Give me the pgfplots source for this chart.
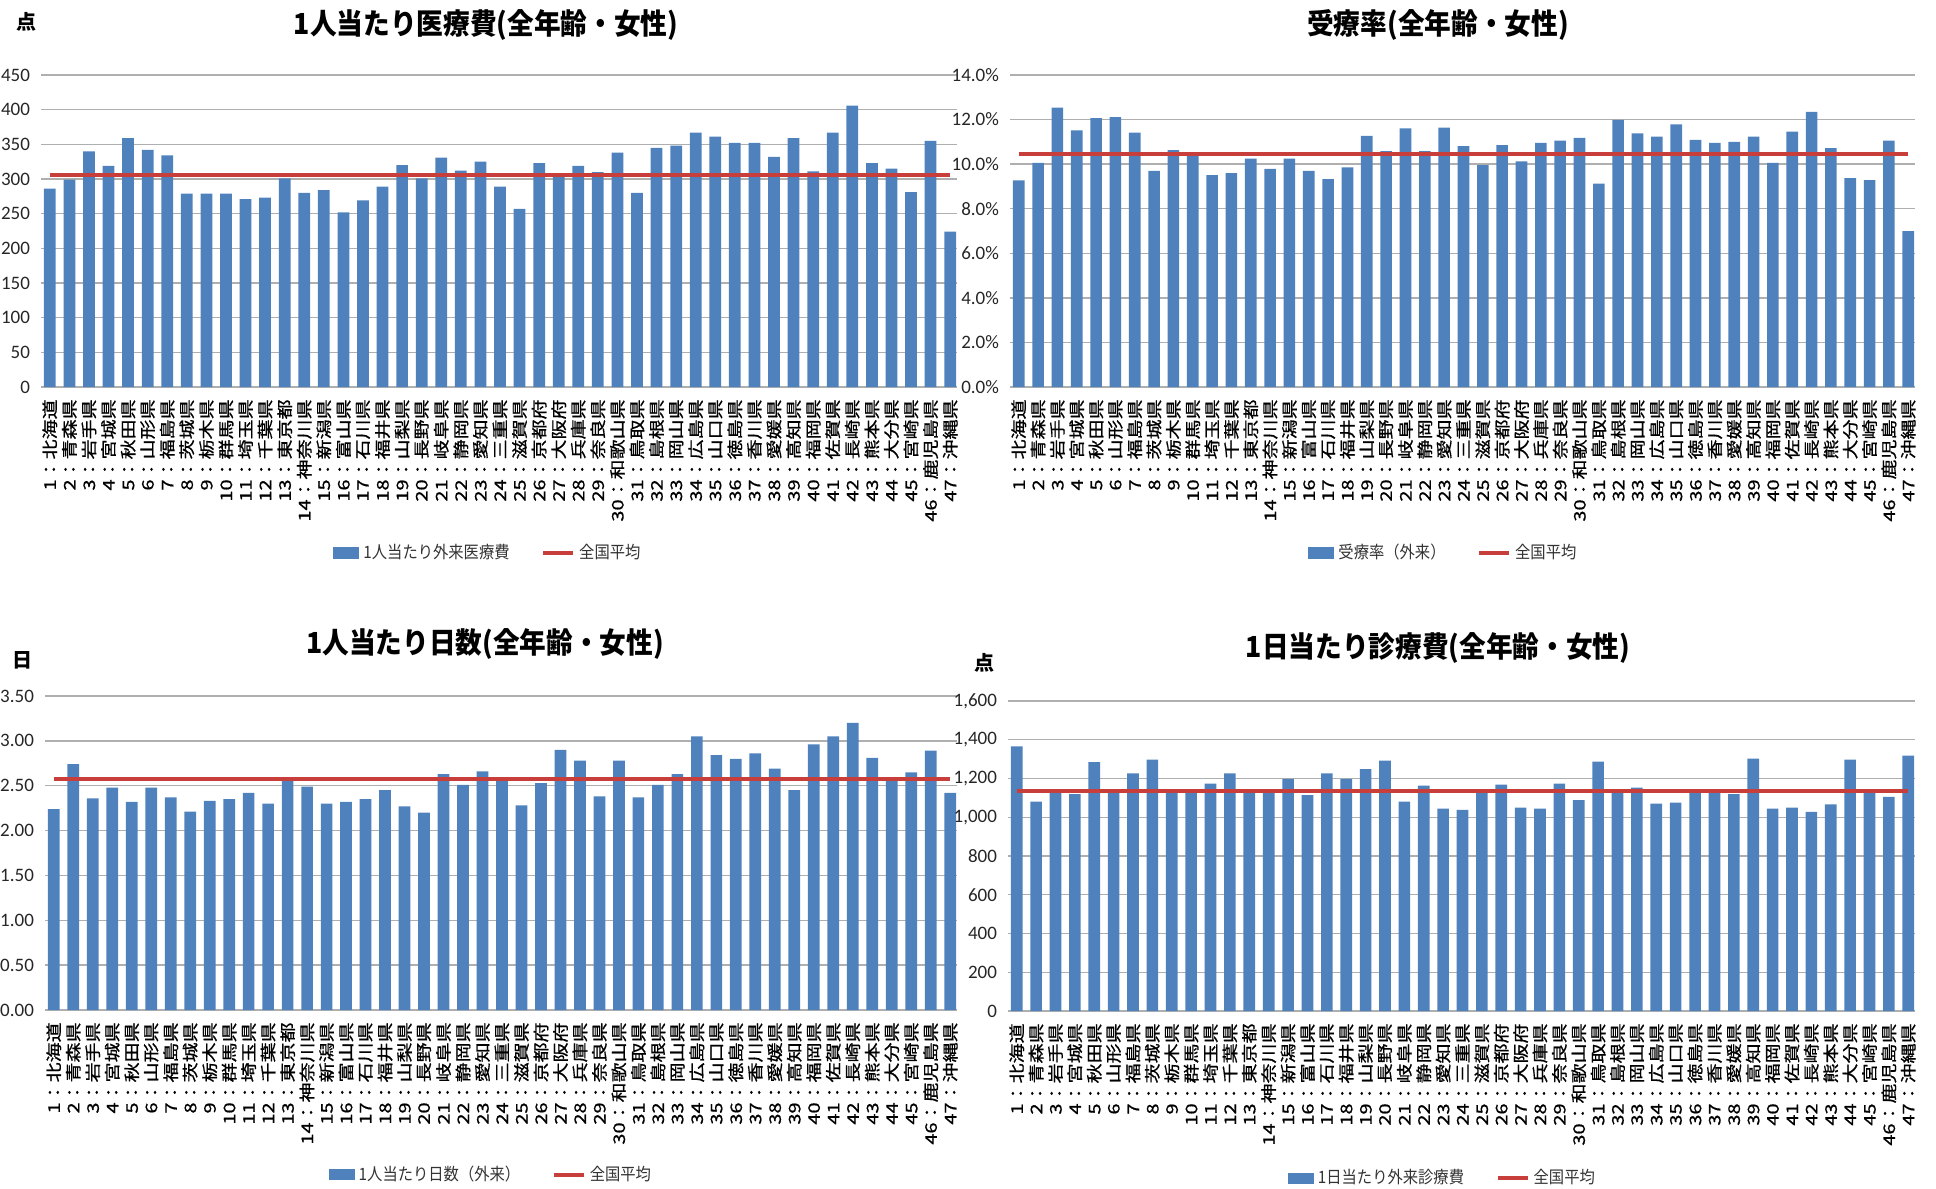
\documentclass[border=0pt]{standalone}
\usepackage{pgfplots}
\usepackage{pgfplotstable}
\pgfplotsset{compat=1.18}
\usepackage{fontspec}
\setmainfont{Carlito}
\newfontfamily\cjk{Noto Sans CJK JP}
\newfontfamily\cjklab{Noto Sans CJK JP}[FakeStretch=1.25,FakeBold=0.8]
\newfontfamily\cjktitle{Noto Sans CJK JP}[FakeStretch=0.92]
\newfontfamily\cjkleg{Noto Sans CJK JP}[FakeStretch=0.9]
\definecolor{barblue}{RGB}{79,129,189}
\definecolor{avgred}{RGB}{200,62,58}
\definecolor{gridgray}{RGB}{175,175,175}

\pgfplotstableread{
i cost rate days perday
1 286 9.27 2.24 1366
2 299 10.06 2.74 1081
3 340 12.54 2.36 1130
4 319 11.51 2.48 1119
5 359 12.06 2.32 1285
6 342 12.11 2.48 1130
7 334 11.42 2.37 1227
8 279 9.70 2.21 1297
9 279 10.63 2.33 1130
10 279 10.43 2.35 1132
11 271 9.51 2.42 1174
12 273 9.60 2.30 1227
13 301 10.25 2.59 1132
14 280 9.79 2.49 1132
15 284 10.25 2.30 1198
16 252 9.70 2.32 1114
17 269 9.33 2.35 1227
18 289 9.85 2.45 1198
19 320 11.27 2.27 1249
20 301 10.58 2.20 1292
21 331 11.60 2.63 1081
22 312 10.58 2.51 1163
23 325 11.64 2.66 1045
24 289 10.81 2.57 1038
25 257 9.96 2.28 1132
26 323 10.85 2.53 1168
27 306 10.12 2.90 1050
28 319 10.96 2.78 1045
29 310 11.05 2.38 1174
30 338 11.18 2.78 1088
31 280 9.13 2.37 1287
32 345 11.99 2.51 1132
33 348 11.38 2.63 1153
34 367 11.23 3.05 1071
35 361 11.79 2.84 1076
36 352 11.09 2.80 1132
37 352 10.96 2.86 1132
38 332 11.00 2.69 1119
39 359 11.23 2.45 1303
40 311 10.06 2.96 1045
41 367 11.46 3.05 1050
42 406 12.35 3.20 1028
43 323 10.72 2.81 1066
44 315 9.37 2.59 1297
45 281 9.28 2.65 1132
46 355 11.05 2.89 1105
47 224 7.00 2.42 1318
}\data

\pgfplotsset{
 panel/.style={
  scale only axis,
  xmin=0.55, xmax=47.35, ymin=0,
  axis line style={draw=none},
  major tick length=0pt,
  ymajorgrids,
  grid style={gridgray, line width=0.7pt},
  xtick={1,...,47},
  xticklabels={{1：北海道},{2：青森県},{3：岩手県},{4：宮城県},{5：秋田県},{6：山形県},{7：福島県},{8：茨城県},{9：栃木県},{10：群馬県},{11：埼玉県},{12：千葉県},{13：東京都},{14：神奈川県},{15：新潟県},{16：富山県},{17：石川県},{18：福井県},{19：山梨県},{20：長野県},{21：岐阜県},{22：静岡県},{23：愛知県},{24：三重県},{25：滋賀県},{26：京都府},{27：大阪府},{28：兵庫県},{29：奈良県},{30：和歌山県},{31：鳥取県},{32：島根県},{33：岡山県},{34：広島県},{35：山口県},{36：徳島県},{37：香川県},{38：愛媛県},{39：高知県},{40：福岡県},{41：佐賀県},{42：長崎県},{43：熊本県},{44：大分県},{45：宮崎県},{46：鹿児島県},{47：沖縄県}},
  xticklabel style={yshift=-5pt, rotate=90, anchor=east, font=\cjklab\fontsize{8}{9}\selectfont, inner sep=1pt},
  yticklabel style={font=\fontsize{9.5}{11}\selectfont, text=black!85, xshift=-2pt},
  /pgf/number format/assume math mode=true,
  scaled y ticks=false,
  legend style={draw=none, fill=none, legend columns=2, font=\cjkleg\fontsize{8.5}{10}\selectfont, text=black!80, /tikz/every even column/.append style={column sep=14pt}, anchor=center},
  legend cell align=left,
 },
 barplot/.style={ybar, bar width=0.6, fill=barblue, draw=none,
   legend image code/.code={\fill[barblue] (0pt,-2.8pt) rectangle (13pt,2.8pt);}},
 avgplot/.style={avgred, line width=2pt, sharp plot, mark=none,
   legend image code/.code={\draw[avgred, line width=1.8pt] (0pt,0pt) -- (15pt,0pt);}},
}

\begin{document}
\begin{tikzpicture}
\path[use as bounding box] (0,0) rectangle (968pt,-594pt);

% Panel 1
\begin{axis}[panel, at={(20.5pt,-193.5pt)}, anchor=south west, width=458pt, height=156pt,
  ymax=450, ytick={0,50,...,450},
  legend style={at={(0.489,-0.532)}}]
\addplot[barplot] table[x=i,y=cost] {\data};
\addlegendentry{1人当たり外来医療費}
\addplot[avgplot] coordinates {(1,306) (47,306)};
\addlegendentry{全国平均}
\end{axis}

% Panel 2
\begin{axis}[panel, at={(505pt,-193.5pt)}, anchor=south west, width=452.5pt, height=156pt,
  ymax=14, ytick={0,2,...,14},
  yticklabel={\pgfmathprintnumber[fixed,fixed zerofill,precision=1]{\tick}\%},
  legend style={at={(0.48,-0.532)}}]
\addplot[barplot] table[x=i,y=rate] {\data};
\addlegendentry{受療率（外来）}
\addplot[avgplot] coordinates {(1,10.45) (47,10.45)};
\addlegendentry{全国平均}
\end{axis}

% Panel 3
\begin{axis}[panel, at={(22.5pt,-505pt)}, anchor=south west, width=456pt, height=157pt,
  ymax=3.5, ytick={0,0.5,...,3.5},
  yticklabel={\pgfmathprintnumber[fixed,fixed zerofill,precision=2]{\tick}},
  legend style={at={(0.49,-0.525)}}]
\addplot[barplot] table[x=i,y=days] {\data};
\addlegendentry{1人当たり日数（外来）}
\addplot[avgplot] coordinates {(1,2.58) (47,2.58)};
\addlegendentry{全国平均}
\end{axis}

% Panel 4
\begin{axis}[panel, at={(504pt,-505.5pt)}, anchor=south west, width=453.5pt, height=155pt,
  ymax=1600, ytick={0,200,...,1600},
  /pgf/number format/1000 sep={,},
  legend style={at={(0.48,-0.539)}}]
\addplot[barplot] table[x=i,y=perday] {\data};
\addlegendentry{1日当たり外来診療費}
\addplot[avgplot] coordinates {(1,1136) (47,1136)};
\addlegendentry{全国平均}
\end{axis}

% titles and units
\node[font=\cjktitle\bfseries\fontsize{14.5}{16}\selectfont] at (243pt,-12.5pt) {1人当たり医療費(全年齢・女性)};
\node[font=\cjktitle\bfseries\fontsize{14.5}{16}\selectfont] at (719pt,-12.5pt) {受療率(全年齢・女性)};
\node[font=\cjktitle\bfseries\fontsize{14.5}{16}\selectfont] at (242.5pt,-322pt) {1人当たり日数(全年齢・女性)};
\node[font=\cjktitle\bfseries\fontsize{14.5}{16}\selectfont] at (719pt,-324pt) {1日当たり診療費(全年齢・女性)};
\node[font=\cjk\bfseries\fontsize{10}{11}\selectfont] at (13.5pt,-11pt) {点};
\node[font=\cjk\bfseries\fontsize{10}{11}\selectfont] at (11pt,-330pt) {日};
\node[font=\cjk\bfseries\fontsize{10}{11}\selectfont] at (492pt,-331.5pt) {点};
\end{tikzpicture}
\end{document}
